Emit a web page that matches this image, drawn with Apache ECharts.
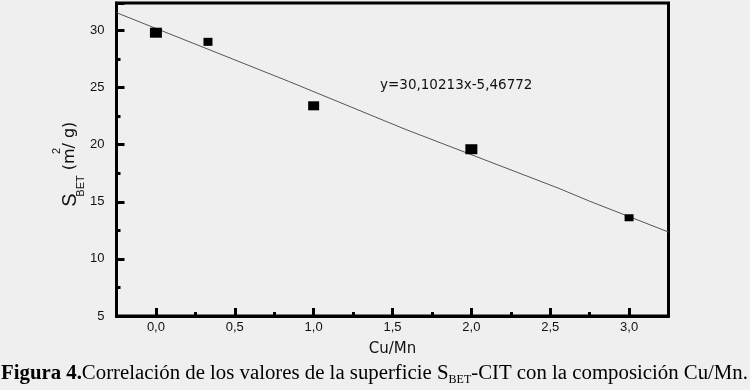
<!DOCTYPE html>
<html>
<head>
<meta charset="utf-8">
<script src="https://cdn.jsdelivr.net/npm/echarts@6/dist/echarts.min.js"></script>
<style>
  html, body { margin: 0; padding: 0; background: #efefef; }
  #chart { width: 750px; height: 390px; }
</style>
</head>
<body>
<div id="chart"></div>
<script>
// datos
const cuMn = [0, 0.33, 1.0, 2.0, 3.0];
const sBet = [29.8, 29.0, 23.4, 19.6, 13.6];
// recta de ajuste (trazo digitalizado)
const fitX = [-0.25, 0.84, 1.58, 2.55, 2.75, 3.25];
const fitY = [31.55, 25.55, 21.35, 16.2, 15.05, 12.35];
const xMajorTicks = [0, 0.5, 1.0, 1.5, 2.0, 2.5, 3.0];
const xMinorTicks = [0.25, 0.75, 1.25, 1.75, 2.25, 2.75];
const equationText = 'y=30,10213x-5,46772';

const markerSizes = [[12, 10], [9, 8], [11, 9], [12, 10], [9, 7]];

const chart = echarts.init(document.getElementById('chart'));

const tickFont = { fontFamily: 'Liberation Sans', fontSize: 13, color: '#111' };
const comicFont = 'DejaVu Sans';

const option = {
  backgroundColor: '#efefef',
  animation: false,
  grid: {
    left: 116.5, right: 81.5, top: 3, bottom: 74,
    show: true, borderColor: '#000', borderWidth: 3, backgroundColor: 'transparent'
  },
  xAxis: [{
    type: 'value', min: -0.25, max: 3.25,
    axisLine: { show: true, onZero: false, lineStyle: { color: '#000', width: 3 } },
    axisTick: { show: true, inside: true, length: 8, customValues: xMajorTicks, lineStyle: { color: '#000', width: 3 } },
    axisLabel: {
      customValues: xMajorTicks, margin: 5, ...tickFont,
      formatter: v => v.toFixed(1).replace('.', ',')
    },
    splitLine: { show: false },
    name: 'Cu/Mn', nameLocation: 'middle', nameGap: 26,
    nameTextStyle: { fontFamily: comicFont, fontSize: 15, color: '#111' }
  }, {
    type: 'value', min: -0.25, max: 3.25, position: 'bottom',
    axisLine: { show: false, onZero: false },
    axisTick: { show: true, inside: true, length: 4, customValues: xMinorTicks, lineStyle: { color: '#000', width: 3 } },
    axisLabel: { show: false },
    splitLine: { show: false }
  }],
  yAxis: {
    type: 'value', min: 5, max: 32.4, interval: 5,
    axisLine: { show: true, onZero: false, lineStyle: { color: '#000', width: 3 } },
    axisTick: { show: true, inside: true, length: 8, lineStyle: { color: '#000', width: 3 } },
    minorTick: { show: true, splitNumber: 2, length: 4, lineStyle: { color: '#000', width: 3 } },
    axisLabel: { margin: 12, ...tickFont, showMaxLabel: false },
    splitLine: { show: false }
  },
  series: [{
    type: 'line',
    data: fitX.map((x, i) => [x, fitY[i]]),
    symbol: 'none',
    lineStyle: { color: '#555', width: 1 },
    z: 2
  }, {
    type: 'scatter',
    data: cuMn.map((x, i) => ({ value: [x, sBet[i]], symbolSize: markerSizes[i] })),
    symbol: 'rect',
    itemStyle: { color: '#000', opacity: 1 },
    z: 3
  }],
  graphic: [
    { type: 'text', left: 380, top: 78,
      style: { text: equationText, fontFamily: comicFont, fontSize: 13.5, fill: '#111' } },
    // etiqueta eje y: S_BET (m^2/ g)
    { type: 'text', x: 70, y: 200, rotation: Math.PI / 2,
      style: { text: 'S', fontFamily: 'Liberation Sans', fontSize: 20, fill: '#111', align: 'center', verticalAlign: 'middle' } },
    { type: 'text', x: 81, y: 186, rotation: Math.PI / 2,
      style: { text: 'BET', fontFamily: 'Liberation Sans', fontSize: 11, fill: '#111', align: 'center', verticalAlign: 'middle' } },
    { type: 'text', x: 70, y: 146, rotation: Math.PI / 2,
      style: { text: '(m/ g)', fontFamily: comicFont, fontSize: 16, fill: '#111', align: 'center', verticalAlign: 'middle' } },
    { type: 'text', x: 57, y: 151, rotation: Math.PI / 2,
      style: { text: '2', fontFamily: 'Liberation Sans', fontSize: 11, fill: '#111', align: 'center', verticalAlign: 'middle' } },
    // pie de figura
    { type: 'text', left: 1, top: 363,
      style: {
        text: '{b|Figura 4.}{n|Correlación de los valores de la superficie S}{s|BET}{n|-CIT con la composición Cu/Mn.}',
        rich: {
          b: { fontFamily: 'Liberation Serif', fontSize: 20.8, fontWeight: 'bold', fill: '#000', lineHeight: 24 },
          n: { fontFamily: 'Liberation Serif', fontSize: 20.8, fill: '#000', lineHeight: 24 },
          s: { fontFamily: 'Liberation Serif', fontSize: 12, fill: '#000', lineHeight: 24, verticalAlign: 'bottom' }
        }
      } }
  ]
};

chart.setOption(option);
</script>
</body>
</html>
